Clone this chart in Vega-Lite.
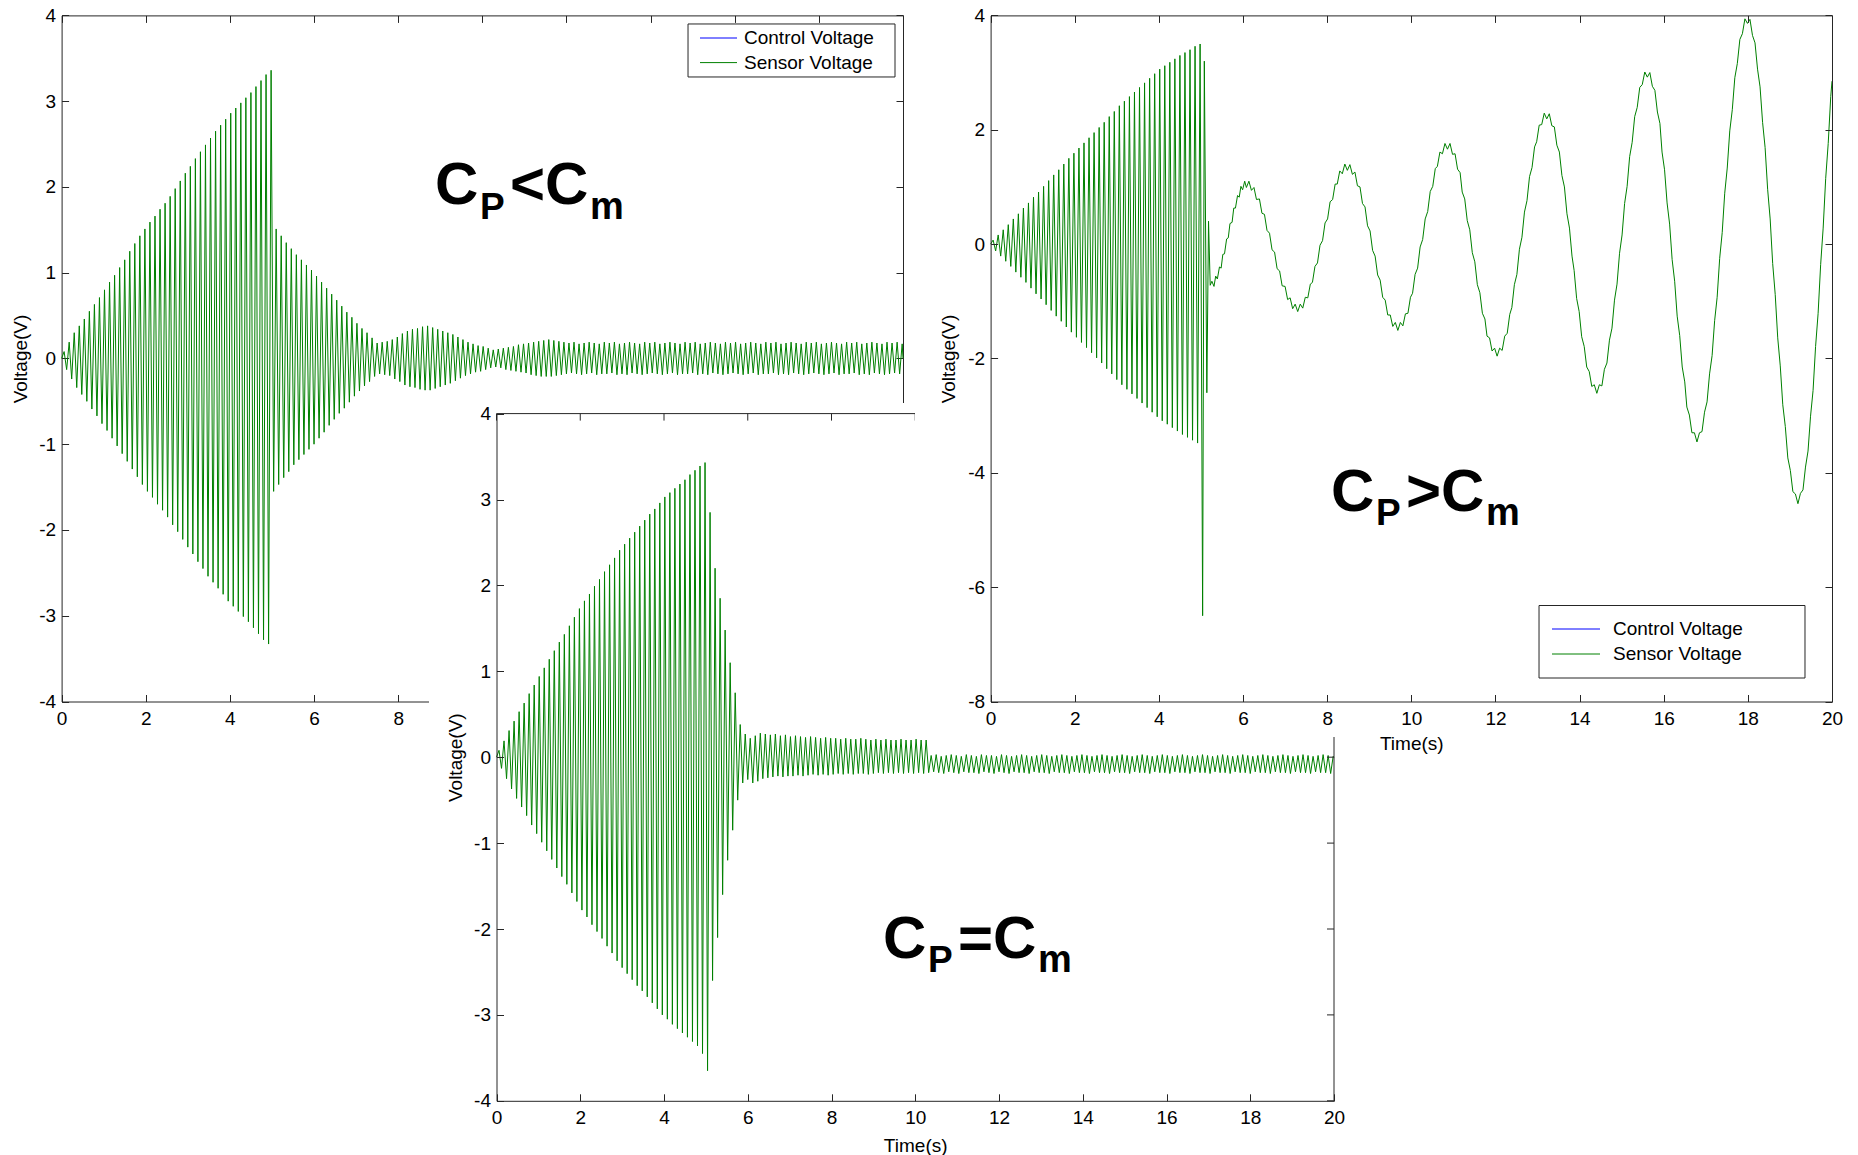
{
"$schema":"https://vega.github.io/schema/vega-lite/v6.json",
"width":1858,"height":1155,"autosize":{"type":"none"},"padding":0,"background":"white",
"config":{
 "view":{"stroke":null},
 "font":"Liberation Sans",
 "axis":{"labelFont":"Liberation Sans","labelFontSize":19,"labelColor":"#000","titleFont":"Liberation Sans","titleFontSize":19,"titleFontWeight":"normal","titleColor":"#000","titleBaseline":"middle","domainColor":"#262626","tickColor":"#262626","tickSize":-7,"labelFlush":false,"labelOverlap":false,"labelBound":false,"grid":false,"labelExpr":"'' + datum.value"},
 "legend":{"labelFont":"Liberation Sans","labelFontSize":19,"labelColor":"#000","orient":"none","padding":0,"symbolSize":4,"symbolStrokeWidth":1}
},
"datasets":{
"xt":[{"t":0},{"t":2},{"t":4},{"t":6},{"t":8},{"t":10},{"t":12},{"t":14},{"t":16},{"t":18},{"t":20}],
"yt":[{"v":-4},{"v":-3},{"v":-2},{"v":-1},{"v":0},{"v":1},{"v":2},{"v":3},{"v":4}],
"tl":[
{"t":0,"v":0},{"t":0.06,"v":0.08},{"t":0.12,"v":-0.13},{"t":0.18,"v":0.19},{"t":0.24,"v":-0.24},{"t":0.3,"v":0.3},{"t":0.36,"v":-0.34},{"t":0.42,"v":0.38},{"t":0.48,"v":-0.42},{"t":0.54,"v":0.46},
{"t":0.6,"v":-0.5},{"t":0.66,"v":0.55},{"t":0.72,"v":-0.59},{"t":0.78,"v":0.63},{"t":0.84,"v":-0.67},{"t":0.9,"v":0.71},{"t":0.96,"v":-0.76},{"t":1.02,"v":0.8},{"t":1.08,"v":-0.84},{"t":1.14,"v":0.89},
{"t":1.2,"v":-0.93},{"t":1.26,"v":0.97},{"t":1.32,"v":-1.02},{"t":1.38,"v":1.06},{"t":1.44,"v":-1.11},{"t":1.5,"v":1.15},{"t":1.56,"v":-1.2},{"t":1.62,"v":1.25},{"t":1.68,"v":-1.29},{"t":1.74,"v":1.34},
{"t":1.8,"v":-1.38},{"t":1.86,"v":1.43},{"t":1.92,"v":-1.47},{"t":1.98,"v":1.51},{"t":2.04,"v":-1.55},{"t":2.1,"v":1.59},{"t":2.16,"v":-1.62},{"t":2.22,"v":1.66},{"t":2.28,"v":-1.7},{"t":2.34,"v":1.74},
{"t":2.4,"v":-1.77},{"t":2.46,"v":1.81},{"t":2.52,"v":-1.85},{"t":2.58,"v":1.89},{"t":2.64,"v":-1.94},{"t":2.7,"v":1.98},{"t":2.76,"v":-2.02},{"t":2.82,"v":2.07},{"t":2.88,"v":-2.11},{"t":2.94,"v":2.16},
{"t":3,"v":-2.2},{"t":3.06,"v":2.24},{"t":3.12,"v":-2.28},{"t":3.18,"v":2.33},{"t":3.24,"v":-2.37},{"t":3.3,"v":2.41},{"t":3.36,"v":-2.45},{"t":3.42,"v":2.49},{"t":3.48,"v":-2.54},{"t":3.54,"v":2.57},
{"t":3.6,"v":-2.61},{"t":3.66,"v":2.65},{"t":3.72,"v":-2.68},{"t":3.78,"v":2.72},{"t":3.84,"v":-2.75},{"t":3.9,"v":2.79},{"t":3.96,"v":-2.83},{"t":4.02,"v":2.86},{"t":4.08,"v":-2.89},{"t":4.14,"v":2.92},
{"t":4.2,"v":-2.95},{"t":4.26,"v":2.98},{"t":4.32,"v":-3.01},{"t":4.38,"v":3.04},{"t":4.44,"v":-3.07},{"t":4.5,"v":3.1},{"t":4.56,"v":-3.14},{"t":4.62,"v":3.17},{"t":4.68,"v":-3.21},{"t":4.74,"v":3.24},
{"t":4.8,"v":-3.28},{"t":4.86,"v":3.31},{"t":4.92,"v":-3.33},{"t":4.98,"v":3.36},{"t":5.04,"v":-1.55},{"t":5.1,"v":1.51},{"t":5.16,"v":-1.47},{"t":5.22,"v":1.43},{"t":5.28,"v":-1.39},{"t":5.34,"v":1.35},
{"t":5.4,"v":-1.32},{"t":5.46,"v":1.28},{"t":5.52,"v":-1.24},{"t":5.58,"v":1.21},{"t":5.64,"v":-1.18},{"t":5.7,"v":1.15},{"t":5.76,"v":-1.12},{"t":5.82,"v":1.09},{"t":5.88,"v":-1.06},{"t":5.94,"v":1.03},
{"t":6,"v":-1},{"t":6.06,"v":0.96},{"t":6.12,"v":-0.93},{"t":6.18,"v":0.89},{"t":6.24,"v":-0.86},{"t":6.3,"v":0.82},{"t":6.36,"v":-0.78},{"t":6.42,"v":0.75},{"t":6.48,"v":-0.71},{"t":6.54,"v":0.68},
{"t":6.6,"v":-0.64},{"t":6.66,"v":0.61},{"t":6.72,"v":-0.58},{"t":6.78,"v":0.54},{"t":6.84,"v":-0.51},{"t":6.9,"v":0.48},{"t":6.96,"v":-0.44},{"t":7.02,"v":0.41},{"t":7.08,"v":-0.38},{"t":7.14,"v":0.35},
{"t":7.2,"v":-0.32},{"t":7.26,"v":0.3},{"t":7.32,"v":-0.27},{"t":7.38,"v":0.24},{"t":7.44,"v":-0.21},{"t":7.5,"v":0.18},{"t":7.56,"v":-0.18},{"t":7.62,"v":0.19},{"t":7.68,"v":-0.19},{"t":7.74,"v":0.2},
{"t":7.8,"v":-0.2},{"t":7.86,"v":0.22},{"t":7.92,"v":-0.24},{"t":7.98,"v":0.25},{"t":8.04,"v":-0.27},{"t":8.1,"v":0.29},{"t":8.16,"v":-0.31},{"t":8.22,"v":0.32},{"t":8.28,"v":-0.33},{"t":8.34,"v":0.34},
{"t":8.4,"v":-0.34},{"t":8.46,"v":0.35},{"t":8.52,"v":-0.36},{"t":8.58,"v":0.37},{"t":8.64,"v":-0.37},{"t":8.7,"v":0.38},{"t":8.76,"v":-0.37},{"t":8.82,"v":0.36},{"t":8.88,"v":-0.35},{"t":8.94,"v":0.34},
{"t":9,"v":-0.33},{"t":9.06,"v":0.32},{"t":9.12,"v":-0.31},{"t":9.18,"v":0.3},{"t":9.24,"v":-0.29},{"t":9.3,"v":0.28},{"t":9.36,"v":-0.26},{"t":9.42,"v":0.25},{"t":9.48,"v":-0.23},{"t":9.54,"v":0.22},
{"t":9.6,"v":-0.2},{"t":9.66,"v":0.19},{"t":9.72,"v":-0.18},{"t":9.78,"v":0.17},{"t":9.84,"v":-0.16},{"t":9.9,"v":0.15},{"t":9.96,"v":-0.15},{"t":10.02,"v":0.14},{"t":10.08,"v":-0.13},{"t":10.14,"v":0.12},
{"t":10.2,"v":-0.11},{"t":10.26,"v":0.1},{"t":10.32,"v":-0.1},{"t":10.38,"v":0.11},{"t":10.44,"v":-0.11},{"t":10.5,"v":0.12},{"t":10.56,"v":-0.13},{"t":10.62,"v":0.13},{"t":10.68,"v":-0.14},{"t":10.74,"v":0.14},
{"t":10.8,"v":-0.15},{"t":10.86,"v":0.16},{"t":10.92,"v":-0.16},{"t":10.98,"v":0.17},{"t":11.04,"v":-0.17},{"t":11.1,"v":0.18},{"t":11.16,"v":-0.19},{"t":11.22,"v":0.19},{"t":11.28,"v":-0.2},{"t":11.34,"v":0.2},
{"t":11.4,"v":-0.21},{"t":11.46,"v":0.21},{"t":11.52,"v":-0.21},{"t":11.58,"v":0.22},{"t":11.64,"v":-0.21},{"t":11.7,"v":0.21},{"t":11.76,"v":-0.2},{"t":11.82,"v":0.2},{"t":11.88,"v":-0.19},{"t":11.94,"v":0.19},
{"t":12,"v":-0.18},{"t":12.06,"v":0.18},{"t":12.12,"v":-0.17},{"t":12.18,"v":0.19},{"t":12.24,"v":-0.18},{"t":12.3,"v":0.17},{"t":12.36,"v":-0.19},{"t":12.42,"v":0.18},{"t":12.48,"v":-0.18},{"t":12.54,"v":0.19},
{"t":12.6,"v":-0.17},{"t":12.66,"v":0.18},{"t":12.72,"v":-0.19},{"t":12.78,"v":0.17},{"t":12.84,"v":-0.18},{"t":12.9,"v":0.19},{"t":12.96,"v":-0.18},{"t":13.02,"v":0.18},{"t":13.08,"v":-0.17},{"t":13.14,"v":0.19},
{"t":13.2,"v":-0.19},{"t":13.26,"v":0.17},{"t":13.32,"v":-0.18},{"t":13.38,"v":0.18},{"t":13.44,"v":-0.19},{"t":13.5,"v":0.19},{"t":13.56,"v":-0.17},{"t":13.62,"v":0.18},{"t":13.68,"v":-0.18},{"t":13.74,"v":0.17},
{"t":13.8,"v":-0.19},{"t":13.86,"v":0.19},{"t":13.92,"v":-0.18},{"t":13.98,"v":0.18},{"t":14.04,"v":-0.17},{"t":14.1,"v":0.19},{"t":14.16,"v":-0.18},{"t":14.22,"v":0.17},{"t":14.28,"v":-0.19},{"t":14.34,"v":0.18},
{"t":14.4,"v":-0.18},{"t":14.46,"v":0.19},{"t":14.52,"v":-0.17},{"t":14.58,"v":0.18},{"t":14.64,"v":-0.19},{"t":14.7,"v":0.17},{"t":14.76,"v":-0.18},{"t":14.82,"v":0.19},{"t":14.88,"v":-0.18},{"t":14.94,"v":0.18},
{"t":15,"v":-0.17},{"t":15.06,"v":0.19},{"t":15.12,"v":-0.19},{"t":15.18,"v":0.17},{"t":15.24,"v":-0.18},{"t":15.3,"v":0.18},{"t":15.36,"v":-0.19},{"t":15.42,"v":0.19},{"t":15.48,"v":-0.17},{"t":15.54,"v":0.18},
{"t":15.6,"v":-0.18},{"t":15.66,"v":0.17},{"t":15.72,"v":-0.19},{"t":15.78,"v":0.19},{"t":15.84,"v":-0.18},{"t":15.9,"v":0.18},{"t":15.96,"v":-0.17},{"t":16.02,"v":0.19},{"t":16.08,"v":-0.18},{"t":16.14,"v":0.17},
{"t":16.2,"v":-0.19},{"t":16.26,"v":0.18},{"t":16.32,"v":-0.18},{"t":16.38,"v":0.19},{"t":16.44,"v":-0.17},{"t":16.5,"v":0.18},{"t":16.56,"v":-0.19},{"t":16.62,"v":0.17},{"t":16.68,"v":-0.18},{"t":16.74,"v":0.19},
{"t":16.8,"v":-0.18},{"t":16.86,"v":0.18},{"t":16.92,"v":-0.17},{"t":16.98,"v":0.19},{"t":17.04,"v":-0.19},{"t":17.1,"v":0.17},{"t":17.16,"v":-0.18},{"t":17.22,"v":0.18},{"t":17.28,"v":-0.19},{"t":17.34,"v":0.19},
{"t":17.4,"v":-0.17},{"t":17.46,"v":0.18},{"t":17.52,"v":-0.18},{"t":17.58,"v":0.17},{"t":17.64,"v":-0.19},{"t":17.7,"v":0.19},{"t":17.76,"v":-0.18},{"t":17.82,"v":0.18},{"t":17.88,"v":-0.17},{"t":17.94,"v":0.19},
{"t":18,"v":-0.18},{"t":18.06,"v":0.17},{"t":18.12,"v":-0.19},{"t":18.18,"v":0.18},{"t":18.24,"v":-0.18},{"t":18.3,"v":0.19},{"t":18.36,"v":-0.17},{"t":18.42,"v":0.18},{"t":18.48,"v":-0.19},{"t":18.54,"v":0.17},
{"t":18.6,"v":-0.18},{"t":18.66,"v":0.19},{"t":18.72,"v":-0.18},{"t":18.78,"v":0.18},{"t":18.84,"v":-0.17},{"t":18.9,"v":0.19},{"t":18.96,"v":-0.19},{"t":19.02,"v":0.17},{"t":19.08,"v":-0.18},{"t":19.14,"v":0.18},
{"t":19.2,"v":-0.19},{"t":19.26,"v":0.19},{"t":19.32,"v":-0.17},{"t":19.38,"v":0.18},{"t":19.44,"v":-0.18},{"t":19.5,"v":0.17},{"t":19.56,"v":-0.19},{"t":19.62,"v":0.19},{"t":19.68,"v":-0.18},{"t":19.74,"v":0.18},
{"t":19.8,"v":-0.17},{"t":19.86,"v":0.19},{"t":19.92,"v":-0.18},{"t":19.98,"v":0.17},{"t":20,"v":0}
],
"bm":[
{"t":0,"v":0},{"t":0.06,"v":0.08},{"t":0.12,"v":-0.13},{"t":0.18,"v":0.19},{"t":0.24,"v":-0.25},{"t":0.3,"v":0.31},{"t":0.36,"v":-0.37},{"t":0.42,"v":0.42},{"t":0.48,"v":-0.48},{"t":0.54,"v":0.53},
{"t":0.6,"v":-0.58},{"t":0.66,"v":0.63},{"t":0.72,"v":-0.68},{"t":0.78,"v":0.74},{"t":0.84,"v":-0.79},{"t":0.9,"v":0.84},{"t":0.96,"v":-0.89},{"t":1.02,"v":0.94},{"t":1.08,"v":-0.99},{"t":1.14,"v":1.04},
{"t":1.2,"v":-1.09},{"t":1.26,"v":1.14},{"t":1.32,"v":-1.19},{"t":1.38,"v":1.24},{"t":1.44,"v":-1.29},{"t":1.5,"v":1.34},{"t":1.56,"v":-1.39},{"t":1.62,"v":1.43},{"t":1.68,"v":-1.48},{"t":1.74,"v":1.53},
{"t":1.8,"v":-1.58},{"t":1.86,"v":1.63},{"t":1.92,"v":-1.68},{"t":1.98,"v":1.73},{"t":2.04,"v":-1.78},{"t":2.1,"v":1.82},{"t":2.16,"v":-1.86},{"t":2.22,"v":1.9},{"t":2.28,"v":-1.95},{"t":2.34,"v":1.99},
{"t":2.4,"v":-2.03},{"t":2.46,"v":2.07},{"t":2.52,"v":-2.11},{"t":2.58,"v":2.16},{"t":2.64,"v":-2.2},{"t":2.7,"v":2.24},{"t":2.76,"v":-2.28},{"t":2.82,"v":2.32},{"t":2.88,"v":-2.37},{"t":2.94,"v":2.41},
{"t":3,"v":-2.45},{"t":3.06,"v":2.48},{"t":3.12,"v":-2.52},{"t":3.18,"v":2.55},{"t":3.24,"v":-2.59},{"t":3.3,"v":2.62},{"t":3.36,"v":-2.66},{"t":3.42,"v":2.69},{"t":3.48,"v":-2.72},{"t":3.54,"v":2.76},
{"t":3.6,"v":-2.79},{"t":3.66,"v":2.83},{"t":3.72,"v":-2.86},{"t":3.78,"v":2.89},{"t":3.84,"v":-2.93},{"t":3.9,"v":2.96},{"t":3.96,"v":-3},{"t":4.02,"v":3.03},{"t":4.08,"v":-3.05},{"t":4.14,"v":3.08},
{"t":4.2,"v":-3.11},{"t":4.26,"v":3.13},{"t":4.32,"v":-3.16},{"t":4.38,"v":3.18},{"t":4.44,"v":-3.21},{"t":4.5,"v":3.23},{"t":4.56,"v":-3.26},{"t":4.62,"v":3.29},{"t":4.68,"v":-3.31},{"t":4.74,"v":3.34},
{"t":4.8,"v":-3.36},{"t":4.86,"v":3.39},{"t":4.92,"v":-3.45},{"t":4.98,"v":3.43},{"t":5.04,"v":-3.65},{"t":5.1,"v":2.85},{"t":5.16,"v":-2.6},{"t":5.22,"v":2.2},{"t":5.28,"v":-2.1},{"t":5.34,"v":1.85},
{"t":5.4,"v":-1.6},{"t":5.46,"v":1.48},{"t":5.52,"v":-1.2},{"t":5.58,"v":1.1},{"t":5.64,"v":-0.85},{"t":5.7,"v":0.75},{"t":5.76,"v":-0.5},{"t":5.82,"v":0.38},{"t":5.88,"v":-0.3},{"t":5.94,"v":0.27},
{"t":6,"v":-0.26},{"t":6.06,"v":0.22},{"t":6.12,"v":-0.3},{"t":6.18,"v":0.25},{"t":6.24,"v":-0.28},{"t":6.3,"v":0.28},{"t":6.36,"v":-0.25},{"t":6.42,"v":0.27},{"t":6.48,"v":-0.24},{"t":6.54,"v":0.26},
{"t":6.6,"v":-0.23},{"t":6.66,"v":0.27},{"t":6.72,"v":-0.22},{"t":6.78,"v":0.25},{"t":6.84,"v":-0.23},{"t":6.9,"v":0.26},{"t":6.96,"v":-0.22},{"t":7.02,"v":0.24},{"t":7.08,"v":-0.22},{"t":7.14,"v":0.25},
{"t":7.2,"v":-0.21},{"t":7.26,"v":0.24},{"t":7.32,"v":-0.22},{"t":7.38,"v":0.23},{"t":7.44,"v":-0.21},{"t":7.5,"v":0.24},{"t":7.56,"v":-0.2},{"t":7.62,"v":0.23},{"t":7.68,"v":-0.21},{"t":7.74,"v":0.22},
{"t":7.8,"v":-0.2},{"t":7.86,"v":0.23},{"t":7.92,"v":-0.21},{"t":7.98,"v":0.22},{"t":8.04,"v":-0.2},{"t":8.1,"v":0.22},{"t":8.16,"v":-0.19},{"t":8.22,"v":0.21},{"t":8.28,"v":-0.2},{"t":8.34,"v":0.22},
{"t":8.4,"v":-0.19},{"t":8.46,"v":0.21},{"t":8.52,"v":-0.2},{"t":8.58,"v":0.21},{"t":8.64,"v":-0.19},{"t":8.7,"v":0.22},{"t":8.76,"v":-0.19},{"t":8.82,"v":0.21},{"t":8.88,"v":-0.2},{"t":8.94,"v":0.2},
{"t":9,"v":-0.19},{"t":9.06,"v":0.21},{"t":9.12,"v":-0.18},{"t":9.18,"v":0.2},{"t":9.24,"v":-0.19},{"t":9.3,"v":0.21},{"t":9.36,"v":-0.18},{"t":9.42,"v":0.2},{"t":9.48,"v":-0.19},{"t":9.54,"v":0.2},
{"t":9.6,"v":-0.18},{"t":9.66,"v":0.21},{"t":9.72,"v":-0.19},{"t":9.78,"v":0.2},{"t":9.84,"v":-0.18},{"t":9.9,"v":0.2},{"t":9.96,"v":-0.19},{"t":10.02,"v":0.21},{"t":10.08,"v":-0.18},{"t":10.14,"v":0.2},
{"t":10.2,"v":-0.19},{"t":10.26,"v":0.2},{"t":10.32,"v":-0.18},{"t":10.38,"v":0.02},{"t":10.44,"v":-0.17},{"t":10.5,"v":0.03},{"t":10.56,"v":-0.18},{"t":10.62,"v":0.01},{"t":10.68,"v":-0.19},{"t":10.74,"v":0.02},
{"t":10.8,"v":-0.17},{"t":10.86,"v":0.03},{"t":10.92,"v":-0.18},{"t":10.98,"v":0.02},{"t":11.04,"v":-0.19},{"t":11.1,"v":0.01},{"t":11.16,"v":-0.17},{"t":11.22,"v":0.03},{"t":11.28,"v":-0.18},{"t":11.34,"v":0.02},
{"t":11.4,"v":-0.18},{"t":11.46,"v":0.01},{"t":11.52,"v":-0.19},{"t":11.58,"v":0.03},{"t":11.64,"v":-0.17},{"t":11.7,"v":0.02},{"t":11.76,"v":-0.18},{"t":11.82,"v":0.02},{"t":11.88,"v":-0.19},{"t":11.94,"v":0.01},
{"t":12,"v":-0.17},{"t":12.06,"v":0.03},{"t":12.12,"v":-0.18},{"t":12.18,"v":0.02},{"t":12.24,"v":-0.19},{"t":12.3,"v":0.01},{"t":12.36,"v":-0.17},{"t":12.42,"v":0.02},{"t":12.48,"v":-0.18},{"t":12.54,"v":0.03},
{"t":12.6,"v":-0.18},{"t":12.66,"v":0.02},{"t":12.72,"v":-0.19},{"t":12.78,"v":0.01},{"t":12.84,"v":-0.17},{"t":12.9,"v":0.02},{"t":12.96,"v":-0.18},{"t":13.02,"v":0.03},{"t":13.08,"v":-0.18},{"t":13.14,"v":0.02},
{"t":13.2,"v":-0.19},{"t":13.26,"v":0.01},{"t":13.32,"v":-0.17},{"t":13.38,"v":0.02},{"t":13.44,"v":-0.18},{"t":13.5,"v":0.03},{"t":13.56,"v":-0.18},{"t":13.62,"v":0.02},{"t":13.68,"v":-0.19},{"t":13.74,"v":0.01},
{"t":13.8,"v":-0.17},{"t":13.86,"v":0.02},{"t":13.92,"v":-0.18},{"t":13.98,"v":0.03},{"t":14.04,"v":-0.18},{"t":14.1,"v":0.02},{"t":14.16,"v":-0.19},{"t":14.22,"v":0.01},{"t":14.28,"v":-0.17},{"t":14.34,"v":0.02},
{"t":14.4,"v":-0.18},{"t":14.46,"v":0.03},{"t":14.52,"v":-0.18},{"t":14.58,"v":0.02},{"t":14.64,"v":-0.19},{"t":14.7,"v":0.01},{"t":14.76,"v":-0.17},{"t":14.82,"v":0.02},{"t":14.88,"v":-0.18},{"t":14.94,"v":0.03},
{"t":15,"v":-0.18},{"t":15.06,"v":0.02},{"t":15.12,"v":-0.19},{"t":15.18,"v":0.01},{"t":15.24,"v":-0.17},{"t":15.3,"v":0.02},{"t":15.36,"v":-0.18},{"t":15.42,"v":0.03},{"t":15.48,"v":-0.18},{"t":15.54,"v":0.02},
{"t":15.6,"v":-0.19},{"t":15.66,"v":0.01},{"t":15.72,"v":-0.17},{"t":15.78,"v":0.02},{"t":15.84,"v":-0.18},{"t":15.9,"v":0.03},{"t":15.96,"v":-0.18},{"t":16.02,"v":0.02},{"t":16.08,"v":-0.19},{"t":16.14,"v":0.01},
{"t":16.2,"v":-0.17},{"t":16.26,"v":0.02},{"t":16.32,"v":-0.18},{"t":16.38,"v":0.03},{"t":16.44,"v":-0.18},{"t":16.5,"v":0.02},{"t":16.56,"v":-0.19},{"t":16.62,"v":0.01},{"t":16.68,"v":-0.17},{"t":16.74,"v":0.02},
{"t":16.8,"v":-0.18},{"t":16.86,"v":0.03},{"t":16.92,"v":-0.18},{"t":16.98,"v":0.02},{"t":17.04,"v":-0.19},{"t":17.1,"v":0.01},{"t":17.16,"v":-0.17},{"t":17.22,"v":0.02},{"t":17.28,"v":-0.18},{"t":17.34,"v":0.03},
{"t":17.4,"v":-0.18},{"t":17.46,"v":0.02},{"t":17.52,"v":-0.19},{"t":17.58,"v":0.01},{"t":17.64,"v":-0.17},{"t":17.7,"v":0.02},{"t":17.76,"v":-0.18},{"t":17.82,"v":0.03},{"t":17.88,"v":-0.18},{"t":17.94,"v":0.02},
{"t":18,"v":-0.19},{"t":18.06,"v":0.01},{"t":18.12,"v":-0.17},{"t":18.18,"v":0.02},{"t":18.24,"v":-0.18},{"t":18.3,"v":0.03},{"t":18.36,"v":-0.18},{"t":18.42,"v":0.02},{"t":18.48,"v":-0.19},{"t":18.54,"v":0.01},
{"t":18.6,"v":-0.17},{"t":18.66,"v":0.02},{"t":18.72,"v":-0.18},{"t":18.78,"v":0.03},{"t":18.84,"v":-0.18},{"t":18.9,"v":0.02},{"t":18.96,"v":-0.19},{"t":19.02,"v":0.01},{"t":19.08,"v":-0.17},{"t":19.14,"v":0.02},
{"t":19.2,"v":-0.18},{"t":19.26,"v":0.03},{"t":19.32,"v":-0.18},{"t":19.38,"v":0.02},{"t":19.44,"v":-0.19},{"t":19.5,"v":0.01},{"t":19.56,"v":-0.17},{"t":19.62,"v":0.02},{"t":19.68,"v":-0.18},{"t":19.74,"v":0.03},
{"t":19.8,"v":-0.18},{"t":19.86,"v":0.02},{"t":19.92,"v":-0.19},{"t":19.98,"v":0.01},{"t":20,"v":0}
],
"tr":[
{"t":0,"v":0},{"t":0.06,"v":0.07},{"t":0.12,"v":-0.12},{"t":0.18,"v":0.16},{"t":0.24,"v":-0.21},{"t":0.3,"v":0.25},{"t":0.36,"v":-0.3},{"t":0.42,"v":0.34},{"t":0.48,"v":-0.39},{"t":0.54,"v":0.44},
{"t":0.6,"v":-0.49},{"t":0.66,"v":0.53},{"t":0.72,"v":-0.58},{"t":0.78,"v":0.63},{"t":0.84,"v":-0.67},{"t":0.9,"v":0.72},{"t":0.96,"v":-0.77},{"t":1.02,"v":0.82},{"t":1.08,"v":-0.87},{"t":1.14,"v":0.91},
{"t":1.2,"v":-0.96},{"t":1.26,"v":1.01},{"t":1.32,"v":-1.06},{"t":1.38,"v":1.11},{"t":1.44,"v":-1.16},{"t":1.5,"v":1.21},{"t":1.56,"v":-1.26},{"t":1.62,"v":1.3},{"t":1.68,"v":-1.35},{"t":1.74,"v":1.4},
{"t":1.8,"v":-1.45},{"t":1.86,"v":1.5},{"t":1.92,"v":-1.54},{"t":1.98,"v":1.59},{"t":2.04,"v":-1.63},{"t":2.1,"v":1.68},{"t":2.16,"v":-1.72},{"t":2.22,"v":1.77},{"t":2.28,"v":-1.81},{"t":2.34,"v":1.86},
{"t":2.4,"v":-1.9},{"t":2.46,"v":1.95},{"t":2.52,"v":-1.99},{"t":2.58,"v":2.04},{"t":2.64,"v":-2.08},{"t":2.7,"v":2.13},{"t":2.76,"v":-2.18},{"t":2.82,"v":2.23},{"t":2.88,"v":-2.27},{"t":2.94,"v":2.32},
{"t":3,"v":-2.37},{"t":3.06,"v":2.42},{"t":3.12,"v":-2.46},{"t":3.18,"v":2.5},{"t":3.24,"v":-2.54},{"t":3.3,"v":2.58},{"t":3.36,"v":-2.62},{"t":3.42,"v":2.66},{"t":3.48,"v":-2.7},{"t":3.54,"v":2.74},
{"t":3.6,"v":-2.78},{"t":3.66,"v":2.82},{"t":3.72,"v":-2.86},{"t":3.78,"v":2.9},{"t":3.84,"v":-2.94},{"t":3.9,"v":2.98},{"t":3.96,"v":-3.02},{"t":4.02,"v":3.06},{"t":4.08,"v":-3.09},{"t":4.14,"v":3.12},
{"t":4.2,"v":-3.15},{"t":4.26,"v":3.18},{"t":4.32,"v":-3.21},{"t":4.38,"v":3.24},{"t":4.44,"v":-3.27},{"t":4.5,"v":3.3},{"t":4.56,"v":-3.33},{"t":4.62,"v":3.35},{"t":4.68,"v":-3.38},{"t":4.74,"v":3.4},
{"t":4.8,"v":-3.43},{"t":4.86,"v":3.46},{"t":4.92,"v":-3.48},{"t":4.98,"v":3.5},{"t":5.04,"v":-6.5},{"t":5.08,"v":3.2},{"t":5.14,"v":-2.6},{"t":5.18,"v":0.4},{"t":5.22,"v":-0.72},
{"t":5.26,"v":-0.65},{"t":5.31,"v":-0.74},{"t":5.35,"v":-0.56},{"t":5.39,"v":-0.61},{"t":5.44,"v":-0.4},{"t":5.48,"v":-0.42},{"t":5.52,"v":-0.18},{"t":5.56,"v":-0.17},{"t":5.61,"v":0.09},{"t":5.65,"v":0.11},
{"t":5.69,"v":0.36},{"t":5.74,"v":0.38},{"t":5.78,"v":0.63},{"t":5.82,"v":0.63},{"t":5.87,"v":0.85},{"t":5.91,"v":0.82},{"t":5.95,"v":1.01},{"t":5.99,"v":0.95},{"t":6.04,"v":1.1},{"t":6.08,"v":0.99},
{"t":6.14,"v":1.1},{"t":6.2,"v":0.94},{"t":6.26,"v":0.99},{"t":6.32,"v":0.78},{"t":6.39,"v":0.79},{"t":6.45,"v":0.54},{"t":6.51,"v":0.52},{"t":6.57,"v":0.24},{"t":6.63,"v":0.19},{"t":6.69,"v":-0.1},
{"t":6.75,"v":-0.14},{"t":6.81,"v":-0.43},{"t":6.87,"v":-0.47},{"t":6.93,"v":-0.73},{"t":7,"v":-0.74},{"t":7.06,"v":-0.97},{"t":7.12,"v":-0.94},{"t":7.18,"v":-1.13},{"t":7.24,"v":-1.05},{"t":7.3,"v":-1.18},
{"t":7.36,"v":-1.05},{"t":7.42,"v":-1.12},{"t":7.48,"v":-0.93},{"t":7.54,"v":-0.94},{"t":7.6,"v":-0.7},{"t":7.65,"v":-0.67},{"t":7.71,"v":-0.39},{"t":7.77,"v":-0.33},{"t":7.83,"v":-0.02},{"t":7.89,"v":0.06},
{"t":7.95,"v":0.37},{"t":8.01,"v":0.44},{"t":8.07,"v":0.74},{"t":8.13,"v":0.78},{"t":8.19,"v":1.05},{"t":8.24,"v":1.05},{"t":8.3,"v":1.28},{"t":8.36,"v":1.23},{"t":8.42,"v":1.4},{"t":8.48,"v":1.29},
{"t":8.54,"v":1.39},{"t":8.6,"v":1.22},{"t":8.66,"v":1.26},{"t":8.72,"v":1.02},{"t":8.78,"v":1},{"t":8.84,"v":0.71},{"t":8.9,"v":0.65},{"t":8.96,"v":0.32},{"t":9.02,"v":0.23},{"t":9.08,"v":-0.11},
{"t":9.14,"v":-0.21},{"t":9.2,"v":-0.54},{"t":9.26,"v":-0.63},{"t":9.32,"v":-0.93},{"t":9.38,"v":-0.98},{"t":9.44,"v":-1.24},{"t":9.5,"v":-1.24},{"t":9.56,"v":-1.44},{"t":9.62,"v":-1.37},{"t":9.68,"v":-1.51},
{"t":9.74,"v":-1.37},{"t":9.8,"v":-1.43},{"t":9.86,"v":-1.22},{"t":9.92,"v":-1.21},{"t":9.98,"v":-0.93},{"t":10.03,"v":-0.86},{"t":10.09,"v":-0.53},{"t":10.15,"v":-0.42},{"t":10.21,"v":-0.05},{"t":10.27,"v":0.08},
{"t":10.33,"v":0.44},{"t":10.39,"v":0.57},{"t":10.45,"v":0.92},{"t":10.51,"v":1.01},{"t":10.57,"v":1.32},{"t":10.62,"v":1.36},{"t":10.68,"v":1.61},{"t":10.74,"v":1.58},{"t":10.8,"v":1.76},{"t":10.86,"v":1.66},
{"t":10.92,"v":1.76},{"t":10.98,"v":1.57},{"t":11.04,"v":1.58},{"t":11.1,"v":1.31},{"t":11.16,"v":1.25},{"t":11.21,"v":0.91},{"t":11.27,"v":0.79},{"t":11.33,"v":0.41},{"t":11.39,"v":0.25},{"t":11.45,"v":-0.15},
{"t":11.51,"v":-0.31},{"t":11.57,"v":-0.71},{"t":11.63,"v":-0.85},{"t":11.69,"v":-1.21},{"t":11.75,"v":-1.31},{"t":11.8,"v":-1.61},{"t":11.86,"v":-1.64},{"t":11.92,"v":-1.87},{"t":11.98,"v":-1.82},{"t":12.04,"v":-1.96},
{"t":12.1,"v":-1.82},{"t":12.16,"v":-1.86},{"t":12.22,"v":-1.61},{"t":12.28,"v":-1.56},{"t":12.34,"v":-1.23},{"t":12.39,"v":-1.11},{"t":12.45,"v":-0.71},{"t":12.51,"v":-0.53},{"t":12.57,"v":-0.09},{"t":12.63,"v":0.12},
{"t":12.69,"v":0.56},{"t":12.75,"v":0.76},{"t":12.81,"v":1.18},{"t":12.87,"v":1.34},{"t":12.93,"v":1.7},{"t":12.98,"v":1.79},{"t":13.04,"v":2.08},{"t":13.1,"v":2.09},{"t":13.16,"v":2.29},{"t":13.22,"v":2.19},
{"t":13.28,"v":2.28},{"t":13.34,"v":2.07},{"t":13.4,"v":2.05},{"t":13.46,"v":1.73},{"t":13.52,"v":1.61},{"t":13.58,"v":1.2},{"t":13.64,"v":1},{"t":13.7,"v":0.53},{"t":13.76,"v":0.28},{"t":13.82,"v":-0.21},
{"t":13.87,"v":-0.46},{"t":13.93,"v":-0.95},{"t":13.99,"v":-1.18},{"t":14.05,"v":-1.62},{"t":14.11,"v":-1.79},{"t":14.17,"v":-2.15},{"t":14.23,"v":-2.23},{"t":14.29,"v":-2.49},{"t":14.35,"v":-2.46},{"t":14.41,"v":-2.61},
{"t":14.47,"v":-2.46},{"t":14.53,"v":-2.48},{"t":14.59,"v":-2.19},{"t":14.65,"v":-2.08},{"t":14.71,"v":-1.68},{"t":14.77,"v":-1.47},{"t":14.83,"v":-0.98},{"t":14.89,"v":-0.7},{"t":14.95,"v":-0.16},{"t":15.01,"v":0.16},
{"t":15.07,"v":0.71},{"t":15.13,"v":1.01},{"t":15.19,"v":1.53},{"t":15.25,"v":1.78},{"t":15.31,"v":2.23},{"t":15.37,"v":2.39},{"t":15.43,"v":2.74},{"t":15.49,"v":2.79},{"t":15.55,"v":3.01},{"t":15.61,"v":2.92},
{"t":15.67,"v":3},{"t":15.73,"v":2.76},{"t":15.79,"v":2.69},{"t":15.85,"v":2.31},{"t":15.91,"v":2.11},{"t":15.96,"v":1.61},{"t":16.02,"v":1.3},{"t":16.08,"v":0.72},{"t":16.14,"v":0.35},{"t":16.2,"v":-0.27},
{"t":16.26,"v":-0.65},{"t":16.32,"v":-1.26},{"t":16.38,"v":-1.6},{"t":16.44,"v":-2.15},{"t":16.5,"v":-2.41},{"t":16.55,"v":-2.85},{"t":16.61,"v":-2.99},{"t":16.67,"v":-3.3},{"t":16.73,"v":-3.3},{"t":16.79,"v":-3.46},
{"t":16.85,"v":-3.3},{"t":16.91,"v":-3.28},{"t":16.97,"v":-2.94},{"t":17.03,"v":-2.76},{"t":17.09,"v":-2.27},{"t":17.15,"v":-1.95},{"t":17.21,"v":-1.34},{"t":17.27,"v":-0.93},{"t":17.33,"v":-0.25},{"t":17.39,"v":0.2},
{"t":17.45,"v":0.89},{"t":17.51,"v":1.33},{"t":17.57,"v":1.98},{"t":17.63,"v":2.35},{"t":17.69,"v":2.91},{"t":17.75,"v":3.16},{"t":17.81,"v":3.58},{"t":17.87,"v":3.68},{"t":17.93,"v":3.94},{"t":17.99,"v":3.86},
{"t":18.05,"v":3.93},{"t":18.11,"v":3.65},{"t":18.17,"v":3.52},{"t":18.23,"v":3.06},{"t":18.29,"v":2.75},{"t":18.35,"v":2.13},{"t":18.41,"v":1.69},{"t":18.47,"v":0.96},{"t":18.53,"v":0.44},{"t":18.59,"v":-0.34},
{"t":18.65,"v":-0.88},{"t":18.71,"v":-1.64},{"t":18.77,"v":-2.13},{"t":18.83,"v":-2.81},{"t":18.89,"v":-3.19},{"t":18.95,"v":-3.74},{"t":19.01,"v":-3.96},{"t":19.07,"v":-4.33},{"t":19.13,"v":-4.37},{"t":19.19,"v":-4.54},
{"t":19.25,"v":-4.36},{"t":19.31,"v":-4.3},{"t":19.37,"v":-3.9},{"t":19.43,"v":-3.62},{"t":19.49,"v":-3.01},{"t":19.55,"v":-2.56},{"t":19.61,"v":-1.79},{"t":19.67,"v":-1.21},{"t":19.73,"v":-0.36},{"t":19.79,"v":0.28},
{"t":19.85,"v":1.15},{"t":19.91,"v":1.76},{"t":19.97,"v":2.58},{"t":20,"v":2.85}
]
},
"layer":[
 {"layer":[
  {"data":{"name":"tl"},"mark":{"type":"line","strokeWidth":1},
   "encoding":{
    "x":{"field":"t","type":"quantitative","scale":{"domain":[0,20],"range":[61.6,903],"nice":false,"zero":false},
         "axis":{"orient":"bottom","offset":-453.5,"values":[0,2,4,6,8],"labelPadding":15,"title":null,"zindex":0}},
    "y":{"field":"v","type":"quantitative","scale":{"domain":[-4,4],"range":[701.5,15.4],"nice":false,"zero":false},
         "axis":{"orient":"left","offset":-61.6,"values":[-4,-3,-2,-1,0,1,2,3,4],"labelPadding":13,"title":"Voltage(V)","titleX":-41.6,"titleY":358.5,"zindex":0}},
    "color":{"datum":"Sensor Voltage","type":"nominal","scale":{"domain":["Control Voltage","Sensor Voltage"],"range":["#0000ff","#008000"]},
         "legend":{"title":null,"legendX":700,"legendY":28.5,"symbolType":"M-9.5,0H27.5","labelOffset":25,"rowPadding":4.6}}
   }},
  {"data":{"values":[{"box":"legend"}]},"mark":{"type":"rect","fill":"white","stroke":"#262626","strokeWidth":1},
   "encoding":{"x":{"datum":14.89,"type":"quantitative","axis":null},"x2":{"datum":19.81},"y":{"datum":3.9,"type":"quantitative","axis":null},"y2":{"datum":3.282}}},
  {"data":{"values":[{"label":"C"}]},"mark":{"type":"text","font":"Liberation Sans","fontSize":60,"fontWeight":"bold","align":"left","baseline":"alphabetic","color":"#000"},
   "encoding":{
    "x":{"datum":8.876,"type":"quantitative","axis":{"orient":"top","offset":-15.4,"values":[0,2,4,6,8,10,12,14,16,18,20],"labels":false,"title":null,"zindex":0}},
    "y":{"datum":1.8,"type":"quantitative","axis":{"orient":"right","offset":-955,"values":[-4,-3,-2,-1,0,1,2,3,4],"labels":false,"title":null,"zindex":0}},
    "text":{"field":"label"}}},
  {"data":{"values":[{"label":"P"}]},"mark":{"type":"text","font":"Liberation Sans","fontSize":37,"fontWeight":"bold","align":"left","baseline":"alphabetic","color":"#000"},
   "encoding":{"x":{"datum":9.945,"type":"quantitative","axis":null},"y":{"datum":1.626,"type":"quantitative","axis":null},"text":{"field":"label"}}},
  {"data":{"values":[{"label":"<C"}]},"mark":{"type":"text","font":"Liberation Sans","fontSize":60,"fontWeight":"bold","align":"left","baseline":"alphabetic","color":"#000"},
   "encoding":{"x":{"datum":10.658,"type":"quantitative","axis":null},"y":{"datum":1.8,"type":"quantitative","axis":null},"text":{"field":"label"}}},
  {"data":{"values":[{"label":"m"}]},"mark":{"type":"text","font":"Liberation Sans","fontSize":38,"fontWeight":"bold","align":"left","baseline":"alphabetic","color":"#000"},
   "encoding":{"x":{"datum":12.56,"type":"quantitative","axis":null},"y":{"datum":1.626,"type":"quantitative","axis":null},"text":{"field":"label"}}}
 ],"resolve":{"axis":{"x":"independent","y":"independent"}}},
 {"layer":[
  {"data":{"values":[{"bg":"panel"}]},"mark":{"type":"rect","fill":"white","strokeWidth":0},
   "encoding":{"x":{"datum":-1.612,"type":"quantitative","scale":{"domain":[0,20],"range":[496.5,1334],"nice":false,"zero":false},"axis":null},"x2":{"datum":20.86},
               "y":{"datum":4.123,"type":"quantitative","scale":{"domain":[-4,4],"range":[1100.8,413.6],"nice":false,"zero":false},"axis":null},"y2":{"datum":-4.631}}},
  {"data":{"name":"bm"},"mark":{"type":"line","strokeWidth":1,"color":"#008000"},
   "encoding":{
    "x":{"field":"t","type":"quantitative","scale":{"domain":[0,20],"range":[496.5,1334],"nice":false,"zero":false},
         "axis":{"orient":"bottom","offset":-54.2,"values":[0,2,4,6,8,10,12,14,16,18,20],"labelPadding":15,"title":"Time(s)","titleX":915.2,"titleY":44.2,"zindex":1}},
    "y":{"field":"v","type":"quantitative","scale":{"domain":[-4,4],"range":[1100.8,413.6],"nice":false,"zero":false},
         "axis":{"orient":"left","offset":-496.5,"values":[-4,-3,-2,-1,0,1,2,3,4],"labelPadding":13,"title":"Voltage(V)","titleX":-41.5,"titleY":757.2,"zindex":1}}
   }},
  {"data":{"values":[{"edge":"top"}]},"mark":{"type":"rule","color":"#262626","strokeWidth":1},
   "encoding":{"x":{"datum":0,"type":"quantitative","axis":null},"x2":{"datum":20},"y":{"datum":4,"type":"quantitative","axis":null}}},
  {"data":{"values":[{"edge":"right"}]},"mark":{"type":"rule","color":"#262626","strokeWidth":1},
   "encoding":{"x":{"datum":20,"type":"quantitative","axis":null},"y":{"datum":-4,"type":"quantitative","axis":null},"y2":{"datum":4}}},
  {"data":{"name":"xt"},"mark":{"type":"rule","color":"#262626","strokeWidth":1},
   "encoding":{"x":{"field":"t","type":"quantitative","axis":null},"y":{"datum":4,"type":"quantitative","axis":null},"y2":{"datum":3.9185}}},
  {"data":{"name":"yt"},"mark":{"type":"rule","color":"#262626","strokeWidth":1},
   "encoding":{"y":{"field":"v","type":"quantitative","axis":null},"x":{"datum":20,"type":"quantitative","axis":null},"x2":{"datum":19.833}}},
  {"data":{"values":[{"label":"C"}]},"mark":{"type":"text","font":"Liberation Sans","fontSize":60,"fontWeight":"bold","align":"left","baseline":"alphabetic","color":"#000"},
   "encoding":{"x":{"datum":9.23,"type":"quantitative","axis":null},"y":{"datum":-2.338,"type":"quantitative","axis":null},"text":{"field":"label"}}},
  {"data":{"values":[{"label":"P"}]},"mark":{"type":"text","font":"Liberation Sans","fontSize":37,"fontWeight":"bold","align":"left","baseline":"alphabetic","color":"#000"},
   "encoding":{"x":{"datum":10.304,"type":"quantitative","axis":null},"y":{"datum":-2.501,"type":"quantitative","axis":null},"text":{"field":"label"}}},
  {"data":{"values":[{"label":"=C"}]},"mark":{"type":"text","font":"Liberation Sans","fontSize":60,"fontWeight":"bold","align":"left","baseline":"alphabetic","color":"#000"},
   "encoding":{"x":{"datum":11.02,"type":"quantitative","axis":null},"y":{"datum":-2.338,"type":"quantitative","axis":null},"text":{"field":"label"}}},
  {"data":{"values":[{"label":"m"}]},"mark":{"type":"text","font":"Liberation Sans","fontSize":38,"fontWeight":"bold","align":"left","baseline":"alphabetic","color":"#000"},
   "encoding":{"x":{"datum":12.932,"type":"quantitative","axis":null},"y":{"datum":-2.501,"type":"quantitative","axis":null},"text":{"field":"label"}}}
 ],"resolve":{"axis":{"x":"independent","y":"independent"}}},
 {"layer":[
  {"data":{"values":[{"bg":"panel"}]},"mark":{"type":"rect","fill":"white","strokeWidth":0},
   "encoding":{"x":{"datum":-1.797,"type":"quantitative","scale":{"domain":[0,20],"range":[990.6,1832],"nice":false,"zero":false},"axis":null},"x2":{"datum":20.62},
               "y":{"datum":4.27,"type":"quantitative","scale":{"domain":[-8,4],"range":[701.5,15.4],"nice":false,"zero":false},"axis":null},"y2":{"datum":-8.621}}},
  {"data":{"name":"tr"},"mark":{"type":"line","strokeWidth":1},
   "encoding":{
    "x":{"field":"t","type":"quantitative","scale":{"domain":[0,20],"range":[990.6,1832],"nice":false,"zero":false},
         "axis":{"orient":"bottom","offset":-453.5,"values":[0,2,4,6,8,10,12,14,16,18,20],"labelPadding":15,"title":"Time(s)","titleX":1411.3,"titleY":41.5,"zindex":1}},
    "y":{"field":"v","type":"quantitative","scale":{"domain":[-8,4],"range":[701.5,15.4],"nice":false,"zero":false},
         "axis":{"orient":"left","offset":-990.6,"values":[-8,-6,-4,-2,0,2,4],"labelPadding":13,"title":"Voltage(V)","titleX":-42.6,"titleY":358.5,"zindex":1}},
    "color":{"datum":"Sensor Voltage","type":"nominal","scale":{"domain":["Control Voltage","Sensor Voltage"],"range":["#0000ff","#008000"]},
         "legend":{"title":null,"legendX":1552,"legendY":619.5,"symbolType":"M-9.5,0H38.5","labelOffset":42,"rowPadding":5}}
   }},
  {"data":{"values":[{"box":"legend"}]},"mark":{"type":"rect","fill":"white","stroke":"#262626","strokeWidth":1},
   "encoding":{"x":{"datum":13.036,"type":"quantitative","axis":null},"x2":{"datum":19.358},"y":{"datum":-6.321,"type":"quantitative","axis":null},"y2":{"datum":-7.589}}},
  {"data":{"values":[{"label":"C"}]},"mark":{"type":"text","font":"Liberation Sans","fontSize":60,"fontWeight":"bold","align":"left","baseline":"alphabetic","color":"#000"},
   "encoding":{
    "x":{"datum":8.091,"type":"quantitative","axis":{"orient":"top","offset":-15.4,"values":[0,2,4,6,8,10,12,14,16,18,20],"labels":false,"title":null,"zindex":1}},
    "y":{"datum":-4.668,"type":"quantitative","axis":{"orient":"right","offset":-26,"values":[-8,-6,-4,-2,0,2,4],"labels":false,"title":null,"zindex":1}},
    "text":{"field":"label"}}},
  {"data":{"values":[{"label":"P"}]},"mark":{"type":"text","font":"Liberation Sans","fontSize":37,"fontWeight":"bold","align":"left","baseline":"alphabetic","color":"#000"},
   "encoding":{"x":{"datum":9.162,"type":"quantitative","axis":null},"y":{"datum":-4.913,"type":"quantitative","axis":null},"text":{"field":"label"}}},
  {"data":{"values":[{"label":">C"}]},"mark":{"type":"text","font":"Liberation Sans","fontSize":60,"fontWeight":"bold","align":"left","baseline":"alphabetic","color":"#000"},
   "encoding":{"x":{"datum":9.875,"type":"quantitative","axis":null},"y":{"datum":-4.668,"type":"quantitative","axis":null},"text":{"field":"label"}}},
  {"data":{"values":[{"label":"m"}]},"mark":{"type":"text","font":"Liberation Sans","fontSize":38,"fontWeight":"bold","align":"left","baseline":"alphabetic","color":"#000"},
   "encoding":{"x":{"datum":11.776,"type":"quantitative","axis":null},"y":{"datum":-4.913,"type":"quantitative","axis":null},"text":{"field":"label"}}}
 ],"resolve":{"axis":{"x":"independent","y":"independent"}}}
],
"resolve":{"scale":{"x":"independent","y":"independent","color":"independent"},"axis":{"x":"independent","y":"independent"},"legend":{"color":"independent"}}
}
